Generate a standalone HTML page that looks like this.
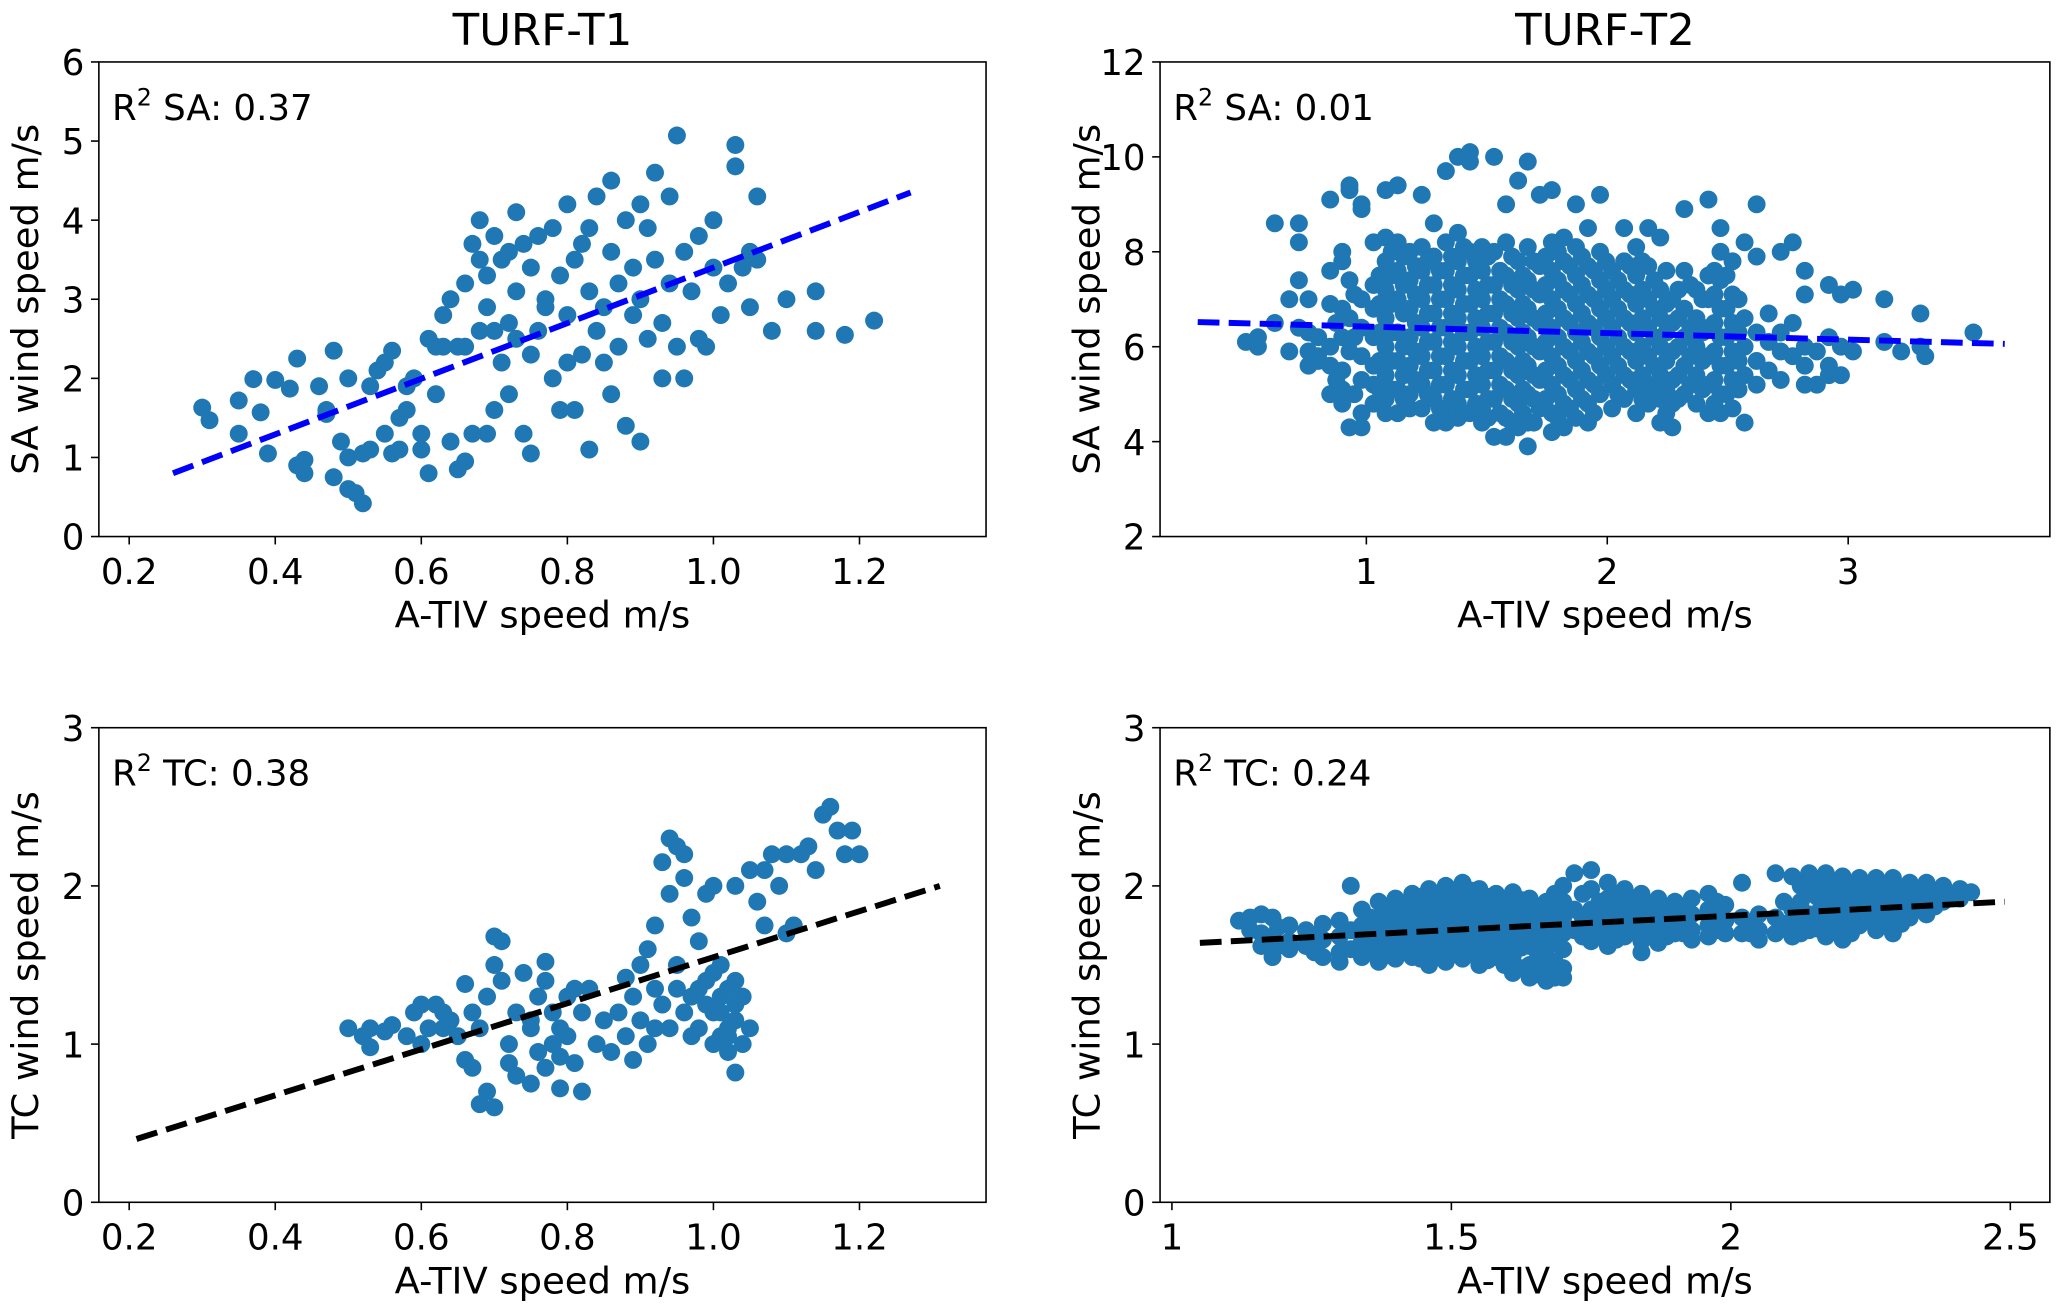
<!DOCTYPE html>
<html><head><meta charset="utf-8"><style>
html,body{margin:0;padding:0;background:#fff;}
svg{display:block;}
text{font-family:"DejaVu Sans","Liberation Sans",sans-serif;fill:#000;}
</style></head><body>
<svg id="fig" width="2067" height="1310" viewBox="0 0 1568 993.7" preserveAspectRatio="none" xmlns="http://www.w3.org/2000/svg"></svg>
<script>
// ---- data ----
const t1saX=[0.30,0.31,0.35,0.35,0.37,0.38,0.39,0.40,0.42,0.43,0.43,0.44,0.44,0.46,0.47,0.47,0.48,0.48,0.49,0.50,0.50,0.50,0.51,0.52,0.52,0.53,0.53,0.54,0.55,0.55,0.56,0.56,0.57,0.57,0.58,0.58,0.59,0.60,0.60,0.61,0.61,0.62,0.62,0.63,0.63,0.64,0.64,0.65,0.65,0.66,0.66,0.66,0.67,0.67,0.68,0.68,0.68,0.69,0.69,0.69,0.70,0.70,0.70,0.71,0.71,0.72,0.72,0.72,0.73,0.73,0.73,0.74,0.74,0.75,0.75,0.75,0.76,0.76,0.77,0.77,0.78,0.78,0.79,0.79,0.80,0.80,0.80,0.81,0.81,0.82,0.82,0.83,0.83,0.83,0.84,0.84,0.85,0.85,0.86,0.86,0.86,0.87,0.87,0.88,0.88,0.89,0.89,0.90,0.90,0.90,0.91,0.91,0.92,0.92,0.93,0.93,0.94,0.94,0.95,0.95,0.96,0.96,0.97,0.98,0.98,0.99,1.00,1.00,1.01,1.02,1.03,1.03,1.04,1.05,1.05,1.06,1.06,1.08,1.10,1.14,1.14,1.18,1.22];
const t1saY=[1.63,1.47,1.72,1.30,1.99,1.57,1.05,1.98,1.87,2.25,0.90,0.97,0.80,1.90,1.55,1.60,2.35,0.75,1.20,2.00,1.00,0.60,0.55,0.42,1.05,1.90,1.10,2.10,2.20,1.30,2.35,1.05,1.50,1.10,1.60,1.90,2.00,1.30,1.10,2.50,0.80,2.40,1.80,2.80,2.40,3.00,1.20,2.40,0.85,3.20,2.40,0.95,3.70,1.30,4.00,3.50,2.60,3.30,2.90,1.30,3.80,2.60,1.60,3.50,2.20,3.60,2.70,1.80,4.10,3.10,2.50,3.70,1.30,3.40,2.30,1.05,3.80,2.60,3.00,2.90,3.90,2.00,3.30,1.60,4.20,2.80,2.20,3.50,1.60,3.70,2.30,3.90,3.10,1.10,2.60,4.30,2.90,2.20,4.50,3.60,1.80,3.20,2.40,4.00,1.40,3.40,2.80,4.20,3.00,1.20,3.90,2.50,4.60,3.50,2.70,2.00,4.30,3.20,5.07,2.40,3.60,2.00,3.10,3.80,2.50,2.40,3.40,4.00,2.80,3.20,4.95,4.68,3.40,3.60,2.90,4.30,3.50,2.60,3.00,3.10,2.60,2.55,2.73];
const t1saFit=[[0.26,0.80],[1.27,4.35]];

const t2saCols=[[0.50,[6.1]],[0.55,[6.0,6.2]],[0.62,[8.6,6.5]],[0.68,[7.0,5.9]],[0.72,[8.6,8.2,7.4,6.4]],[0.76,[7.0,6.3,5.9,5.6]],[0.80,[6.2,5.8,5.7]],[0.85,[9.1,7.6,6.9,6.0,5.6,5.0]],[0.90,[8.0,7.8,6.8,6.2,5.5,5.1,4.8]],[0.93,[9.3,9.4,7.4,6.6,5.9,4.3]],[0.98,[9.0,8.9,7.0,6.4,5.8,5.3,4.6,4.3]],[1.03,[8.2,7.3,6.8,6.2,5.6,5.2,4.8]],[1.08,[9.3,8.3,7.8,7.2,6.6,6.0,5.4,4.9,4.6]],[1.13,[9.4,8.2,7.6,7.0,6.3,5.7,5.1,4.6]],[1.18,[8.0,7.4,6.8,6.2,5.6,5.0,4.7]],[1.23,[9.2,8.1,7.6,7.0,6.4,5.8,5.2,4.7]],[1.28,[8.6,7.9,7.3,6.7,6.1,5.5,4.9,4.4]],[1.33,[9.7,8.2,7.6,7.0,6.4,5.8,5.2,4.6,4.4]],[1.38,[10.0,8.4,7.8,7.2,6.6,6.0,5.4,4.8,4.5]],[1.43,[10.1,9.9,8.0,7.5,6.9,6.3,5.7,5.1,4.6]],[1.48,[8.1,7.6,7.0,6.4,5.8,5.2,4.7,4.4]],[1.53,[10.0,8.0,7.3,6.7,6.1,5.5,4.9,4.1]],[1.58,[9.0,8.2,7.5,6.9,6.3,5.7,5.1,4.5,4.1]],[1.63,[9.5,7.8,7.2,6.6,6.0,5.4,4.8,4.3]],[1.67,[9.9,8.1,7.4,6.8,6.2,5.6,5.0,4.4,3.9]],[1.72,[9.2,7.7,7.1,6.5,5.9,5.3,4.7]],[1.77,[9.3,8.2,7.6,7.0,6.4,5.8,5.2,4.6,4.2]],[1.82,[8.3,7.8,7.2,6.6,6.0,5.4,4.8,4.3]],[1.87,[9.0,8.1,7.5,6.9,6.3,5.7,5.1,4.5]],[1.92,[8.5,7.7,7.1,6.5,5.9,5.3,4.8,4.4]],[1.97,[9.2,8.0,7.4,6.8,6.2,5.6,5.0]],[2.02,[7.6,7.0,6.4,5.8,5.2,4.7]],[2.07,[8.5,7.8,7.2,6.6,6.0,5.4,4.9]],[2.12,[8.1,7.5,6.9,6.3,5.7,5.1,4.6]],[2.17,[8.5,7.7,7.0,6.4,5.8,5.2,4.8]],[2.22,[8.3,7.2,6.6,6.0,5.4,4.9,4.4]],[2.27,[7.0,6.5,5.9,5.3,4.8,4.3]],[2.32,[8.9,7.6,6.8,6.2,5.6,5.0]],[2.37,[7.2,6.6,6.0,5.4,4.8]],[2.42,[9.1,7.5,7.0,6.4,5.8,5.2,4.6]],[2.47,[8.5,8.0,7.4,6.8,6.2,5.6,5.0,4.6]],[2.52,[7.8,7.1,6.5,5.9,5.3,4.7]],[2.57,[8.2,6.6,6.0,5.4,4.4]],[2.62,[9.0,7.9,6.3,5.7,5.2]],[2.67,[6.7,6.1,5.5]],[2.72,[8.0,6.3,5.9,5.3]],[2.77,[8.2,6.5,5.8]],[2.82,[7.6,7.1,6.0,5.6,5.2]],[2.87,[5.9,5.2]],[2.92,[7.3,6.2,5.6,5.4]],[2.97,[7.1,6.0,5.4]],[3.02,[7.2,5.9]],[3.15,[7.0,6.1]],[3.22,[5.9]],[3.30,[6.0,6.7]],[3.32,[5.8]],[3.52,[6.3]]];
const t2saColsFill=[[0.875,[6.5,5.3]],[0.95,[7.1,6.2,5.0]],[1.055,[7.5,6.9,6.3,5.7,5.1]],[1.105,[8.0,7.5,6.9,6.3,5.7,5.1]],[1.155,[7.9,7.3,6.7,6.0,5.4,4.9]],[1.205,[7.7,7.1,6.5,5.9,5.3]],[1.255,[7.8,7.3,6.7,6.1,5.5,5.0]],[1.305,[7.6,7.0,6.4,5.8,5.2,4.7]],[1.355,[7.9,7.3,6.7,6.1,5.5,4.9]],[1.405,[8.1,7.5,6.9,6.3,5.7,5.1,4.6]],[1.455,[7.8,7.2,6.6,6.0,5.4,4.8]],[1.505,[7.9,7.3,6.7,6.1,5.5,4.9,4.5]],[1.555,[7.6,7.0,6.4,5.8,5.2,4.6]],[1.605,[7.9,7.3,6.7,6.1,5.5,4.9,4.4]],[1.65,[7.5,6.9,6.3,5.7,5.1,4.6]],[1.695,[7.8,7.2,6.6,6.0,5.4,4.9,4.4]],[1.745,[7.9,7.3,6.7,6.1,5.5,4.9]],[1.795,[8.0,7.4,6.8,6.2,5.6,5.0,4.5]],[1.845,[7.7,7.1,6.5,5.9,5.3,4.7]],[1.895,[7.9,7.3,6.7,6.1,5.5,4.9]],[1.945,[7.6,7.0,6.4,5.8,5.2,4.6]],[1.995,[7.8,7.2,6.6,6.0,5.4]],[2.045,[7.4,6.8,6.2,5.6,5.0]],[2.095,[7.7,7.1,6.5,5.9,5.3]],[2.145,[7.8,7.2,6.6,6.0,5.4,4.9]],[2.195,[7.4,6.8,6.2,5.6,5.1]],[2.245,[7.6,6.9,6.3,5.7,5.1,4.6]],[2.295,[7.2,6.6,6.0,5.4,4.9]],[2.345,[7.3,6.4,5.8,5.2]],[2.395,[7.0,6.3,5.7,5.1]],[2.445,[7.6,7.1,6.5,5.9,5.3,4.8]],[2.495,[7.5,6.8,6.2,5.6,5.0]],[2.545,[7.0,6.3,5.7,5.1]]];
const t2saFit=[[0.30,6.52],[3.65,6.06]];

const t1tcX=[0.50,0.52,0.53,0.55,0.56,0.58,0.59,0.60,0.61,0.62,0.63,0.64,0.65,0.66,0.66,0.67,0.67,0.68,0.68,0.69,0.69,0.70,0.70,0.71,0.71,0.72,0.72,0.73,0.73,0.74,0.75,0.75,0.76,0.76,0.77,0.77,0.78,0.78,0.79,0.79,0.80,0.80,0.81,0.82,0.82,0.83,0.84,0.85,0.86,0.87,0.88,0.88,0.89,0.89,0.90,0.90,0.91,0.91,0.92,0.92,0.93,0.93,0.94,0.94,0.95,0.95,0.96,0.96,0.97,0.97,0.98,0.98,0.99,0.99,1.00,1.00,1.00,1.01,1.01,1.02,1.02,1.03,1.03,1.04,1.04,1.05,1.03,1.05,1.07,1.07,1.09,1.10,1.10,1.11,1.12,1.13,1.14,1.15,1.16,1.17,1.18,1.19,1.20,1.06,1.08,0.94,0.96,0.99,1.00,1.01,1.02,1.03,0.98,1.02,0.53,0.60,0.63,0.77,0.79,0.81,0.92,0.95,0.97,1.01,1.03,0.75,0.70];
const t1tcY=[1.10,1.05,1.10,1.08,1.12,1.05,1.20,1.25,1.10,1.25,1.20,1.15,1.05,0.90,1.38,1.20,0.85,1.10,0.62,0.70,1.30,1.68,0.60,1.65,1.40,1.00,0.88,1.20,0.80,1.45,1.10,0.75,1.30,0.95,1.52,0.85,1.20,1.00,0.92,0.72,1.30,1.05,0.88,1.20,0.70,1.35,1.00,1.15,0.95,1.20,1.42,1.05,1.30,0.90,1.50,1.15,1.60,1.00,1.75,1.35,2.15,1.25,2.30,1.10,2.25,1.50,2.20,1.20,1.80,1.30,1.65,1.10,1.95,1.40,2.00,1.20,1.00,1.50,1.05,1.35,0.95,1.15,0.82,1.30,1.00,1.10,2.00,2.10,2.10,1.75,2.00,2.20,1.70,1.75,2.20,2.25,2.10,2.45,2.50,2.35,2.20,2.35,2.20,1.90,2.20,1.95,2.05,1.25,1.45,1.30,1.10,1.40,1.35,1.05,0.98,1.00,1.10,1.40,1.10,1.35,1.10,1.35,1.05,1.20,1.25,1.15,1.50];
const t1tcFit=[[0.21,0.40],[1.31,2.00]];

const t2tcCols=[[1.12,[1.78]],[1.14,[1.80,1.72]],[1.16,[1.82,1.70,1.62]],[1.18,[1.80,1.68,1.55]],[1.21,[1.75,1.65,1.60]],[1.24,[1.72,1.62]],[1.27,[1.76,1.66,1.55]],[1.30,[1.78,1.68,1.58,1.52]],[1.32,[2.00,1.72,1.60]],[1.34,[1.85,1.75,1.65,1.55]],[1.37,[1.90,1.80,1.70,1.60,1.52]],[1.40,[1.92,1.82,1.72,1.62,1.54]],[1.43,[1.95,1.85,1.75,1.65,1.55]],[1.46,[1.98,1.88,1.78,1.68,1.58,1.50]],[1.49,[2.00,1.90,1.80,1.70,1.60,1.52]],[1.52,[2.02,1.92,1.82,1.72,1.62,1.54]],[1.55,[1.98,1.88,1.78,1.68,1.58,1.50]],[1.58,[1.95,1.85,1.75,1.65,1.55]],[1.61,[1.96,1.86,1.76,1.66,1.56,1.45]],[1.64,[1.92,1.82,1.72,1.62,1.50,1.42]],[1.67,[1.90,1.80,1.70,1.60,1.50,1.40]],[1.70,[2.00,1.90,1.80,1.70,1.60,1.48,1.42]],[1.72,[2.08,1.85,1.72]],[1.75,[2.10,1.98,1.85,1.75,1.65]],[1.78,[2.02,1.92,1.82,1.72,1.62]],[1.81,[1.98,1.88,1.78,1.68]],[1.84,[1.95,1.85,1.75,1.65,1.58]],[1.87,[1.92,1.82,1.72,1.64]],[1.90,[1.90,1.80,1.70]],[1.93,[1.92,1.82,1.72,1.66]],[1.96,[1.95,1.85,1.75,1.68]],[1.99,[1.88,1.78,1.70]],[2.02,[2.02,1.80,1.70]],[2.05,[1.82,1.72,1.66]],[2.08,[2.08,1.80,1.70]],[2.11,[2.06,1.85,1.75,1.68]],[2.14,[2.08,1.95,1.82,1.72]],[2.17,[2.08,1.98,1.88,1.78,1.68]],[2.20,[2.06,1.96,1.86,1.76,1.66]],[2.23,[2.05,1.95,1.85,1.75]],[2.26,[2.05,1.95,1.85,1.72]],[2.29,[2.05,1.95,1.82,1.70]],[2.32,[2.02,1.92,1.80]],[2.35,[2.02,1.92,1.82]],[2.38,[2.00,1.90]],[2.41,[1.98,1.92]],[2.43,[1.96]]];
const t2tcColsFill=[[1.19,[1.74,1.62]],[1.255,[1.69,1.58]],[1.355,[1.80,1.70,1.60]],[1.385,[1.85,1.75,1.65,1.56]],[1.415,[1.87,1.77,1.67,1.58]],[1.445,[1.93,1.83,1.73,1.63,1.54]],[1.475,[1.95,1.85,1.75,1.65,1.55]],[1.505,[1.97,1.87,1.77,1.67,1.57]],[1.535,[1.97,1.87,1.77,1.67,1.57]],[1.565,[1.93,1.83,1.73,1.63,1.53]],[1.595,[1.90,1.80,1.70,1.60,1.50]],[1.625,[1.91,1.81,1.71,1.61,1.48]],[1.655,[1.86,1.76,1.66,1.55,1.44]],[1.685,[1.95,1.85,1.75,1.65,1.52,1.42]],[1.735,[1.95,1.80,1.68]],[1.765,[1.90,1.80,1.70]],[1.795,[1.95,1.85,1.75,1.66]],[1.825,[1.90,1.80,1.72]],[1.855,[1.88,1.78,1.68]],[1.885,[1.86,1.76,1.68]],[1.915,[1.87,1.77,1.70]],[1.975,[1.90,1.80,1.72]],[2.035,[1.76,1.70]],[2.095,[1.90,1.76]],[2.125,[2.00,1.90,1.80,1.70]],[2.155,[2.03,1.93,1.83,1.73]],[2.185,[2.02,1.92,1.82,1.72]],[2.215,[2.00,1.90,1.80,1.70]],[2.245,[2.00,1.90,1.80]],[2.275,[2.00,1.90,1.78]],[2.305,[1.98,1.87,1.76]],[2.335,[1.97,1.87]],[2.365,[1.96,1.87]],[2.395,[1.95]]];
const t2tcFit=[[1.05,1.64],[2.49,1.90]];

const t1xTicks=[0.2,0.4,0.6,0.8,1.0,1.2];
const t1xLabels=["0.2","0.4","0.6","0.8","1.0","1.2"];
const t2saXTicks=[1,2,3];
const t2saXLabels=["1","2","3"];
const t2tcXTicks=[1,1.5,2,2.5];
const t2tcXLabels=["1","1.5","2","2.5"];
const saT1YTicks=[0,1,2,3,4,5,6];
const saT2YTicks=[2,4,6,8,10,12];
const tcYTicks=[0,1,2,3];

// ---- drawing ----
const NS="http://www.w3.org/2000/svg";
const svg=document.getElementById('fig');
function mk(tag,attrs,parent){const e=document.createElementNS(NS,tag);for(const k in attrs)e.setAttribute(k,attrs[k]);(parent||svg).appendChild(e);return e;}
function flat(){const xs=[],ys=[];for(const cols of arguments)cols.forEach(c=>c[1].forEach(y=>{xs.push(c[0]);ys.push(y);}));return [xs,ys];}

function panel(cfg){
  const g=mk('g',{});
  
  
  const L=cfg.L,R=cfg.R,T=cfg.T,B=cfg.B;
  const sx=v=>cfg.px0+(v-cfg.vx0)*(cfg.px1-cfg.px0)/(cfg.vx1-cfg.vx0);
  const sy=v=>B-(v-cfg.ymin)*(B-T)/(cfg.ymax-cfg.ymin);
  const pg=mk('g',{},g);
  
  
  cfg.xs.forEach((x,i)=>{
    const c=mk('circle',{cx:sx(x),cy:sy(cfg.ys[i]),r:6.8,fill:'#1f77b4'},pg);
    
    
  });
  const ln=mk('line',{x1:sx(cfg.fit[0][0]),y1:sy(cfg.fit[0][1]),x2:sx(cfg.fit[1][0]),y2:sy(cfg.fit[1][1]),stroke:cfg.fitColor,'stroke-width':4.5,'stroke-dasharray':'16.5,7'},g);
  
  
  const fr=mk('rect',{x:L,y:T,width:R-L,height:B-T,fill:'none',stroke:'#000','stroke-width':1.2},g);
  
  
  cfg.xt.forEach((v,i)=>{
    const x=sx(v);
    mk('line',{x1:x,y1:B,x2:x,y2:B+6,stroke:'#000','stroke-width':1.2},g);
    const t=mk('text',{x:x,y:B+36,'text-anchor':'middle','font-size':27},g);
    t.textContent=cfg.xl[i];
    
    
  });
  cfg.yt.forEach(v=>{
    const y=sy(v);
    mk('line',{x1:L-6,y1:y,x2:L,y2:y,stroke:'#000','stroke-width':1.2},g);
    const t=mk('text',{x:L-11,y:y+10,'text-anchor':'end','font-size':27},g);
    t.textContent=String(v);
    
    
  });
  const xl=mk('text',{x:(L+R)/2,y:B+69,'text-anchor':'middle','font-size':28},g);
  xl.textContent='A-TIV speed m/s';
  
  
  const yl=mk('text',{x:0,y:0,'text-anchor':'middle','font-size':28,transform:`translate(${L-46},${(T+B)/2}) rotate(-90)`},g);
  yl.textContent=cfg.ylab;
  
  
  const r2=mk('text',{x:L+10,y:T+44,'font-size':27},g);
  r2.innerHTML='R<tspan dy="-11" font-size="18">2</tspan><tspan dy="11"> '+cfg.r2+'</tspan>';
  
  
  if(cfg.title){
    const tt=mk('text',{x:(L+R)/2,y:T-13,'text-anchor':'middle','font-size':33},g);
    tt.textContent=cfg.title;
    
    
  }
}
const p2=flat(t2saCols,t2saColsFill), p4=flat(t2tcCols,t2tcColsFill);
panel({name:'panel-t1-sa',L:75,R:748,T:47,B:407,px0:98,px1:652,vx0:0.2,vx1:1.2,ymin:0,ymax:6,xs:t1saX,ys:t1saY,fit:t1saFit,fitColor:'#0000ff',xt:t1xTicks,xl:t1xLabels,yt:saT1YTicks,ylab:'SA wind speed m/s',r2:'SA: 0.37',title:'TURF-T1'});
panel({name:'panel-t2-sa',L:880,R:1555,T:47,B:407,px0:1036.5,px1:1402,vx0:1,vx1:3,ymin:2,ymax:12,xs:p2[0],ys:p2[1],fit:t2saFit,fitColor:'#0000ff',xt:t2saXTicks,xl:t2saXLabels,yt:saT2YTicks,ylab:'SA wind speed m/s',r2:'SA: 0.01',title:'TURF-T2'});
panel({name:'panel-t1-tc',L:75,R:748,T:552,B:912,px0:98,px1:652,vx0:0.2,vx1:1.2,ymin:0,ymax:3,xs:t1tcX,ys:t1tcY,fit:t1tcFit,fitColor:'#000000',xt:t1xTicks,xl:t1xLabels,yt:tcYTicks,ylab:'TC wind speed m/s',r2:'TC: 0.38'});
panel({name:'panel-t2-tc',L:880,R:1555,T:552,B:912,px0:889,px1:1525,vx0:1,vx1:2.5,ymin:0,ymax:3,xs:p4[0],ys:p4[1],fit:t2tcFit,fitColor:'#000000',xt:t2tcXTicks,xl:t2tcXLabels,yt:tcYTicks,ylab:'TC wind speed m/s',r2:'TC: 0.24'});
</script>
</body></html>
